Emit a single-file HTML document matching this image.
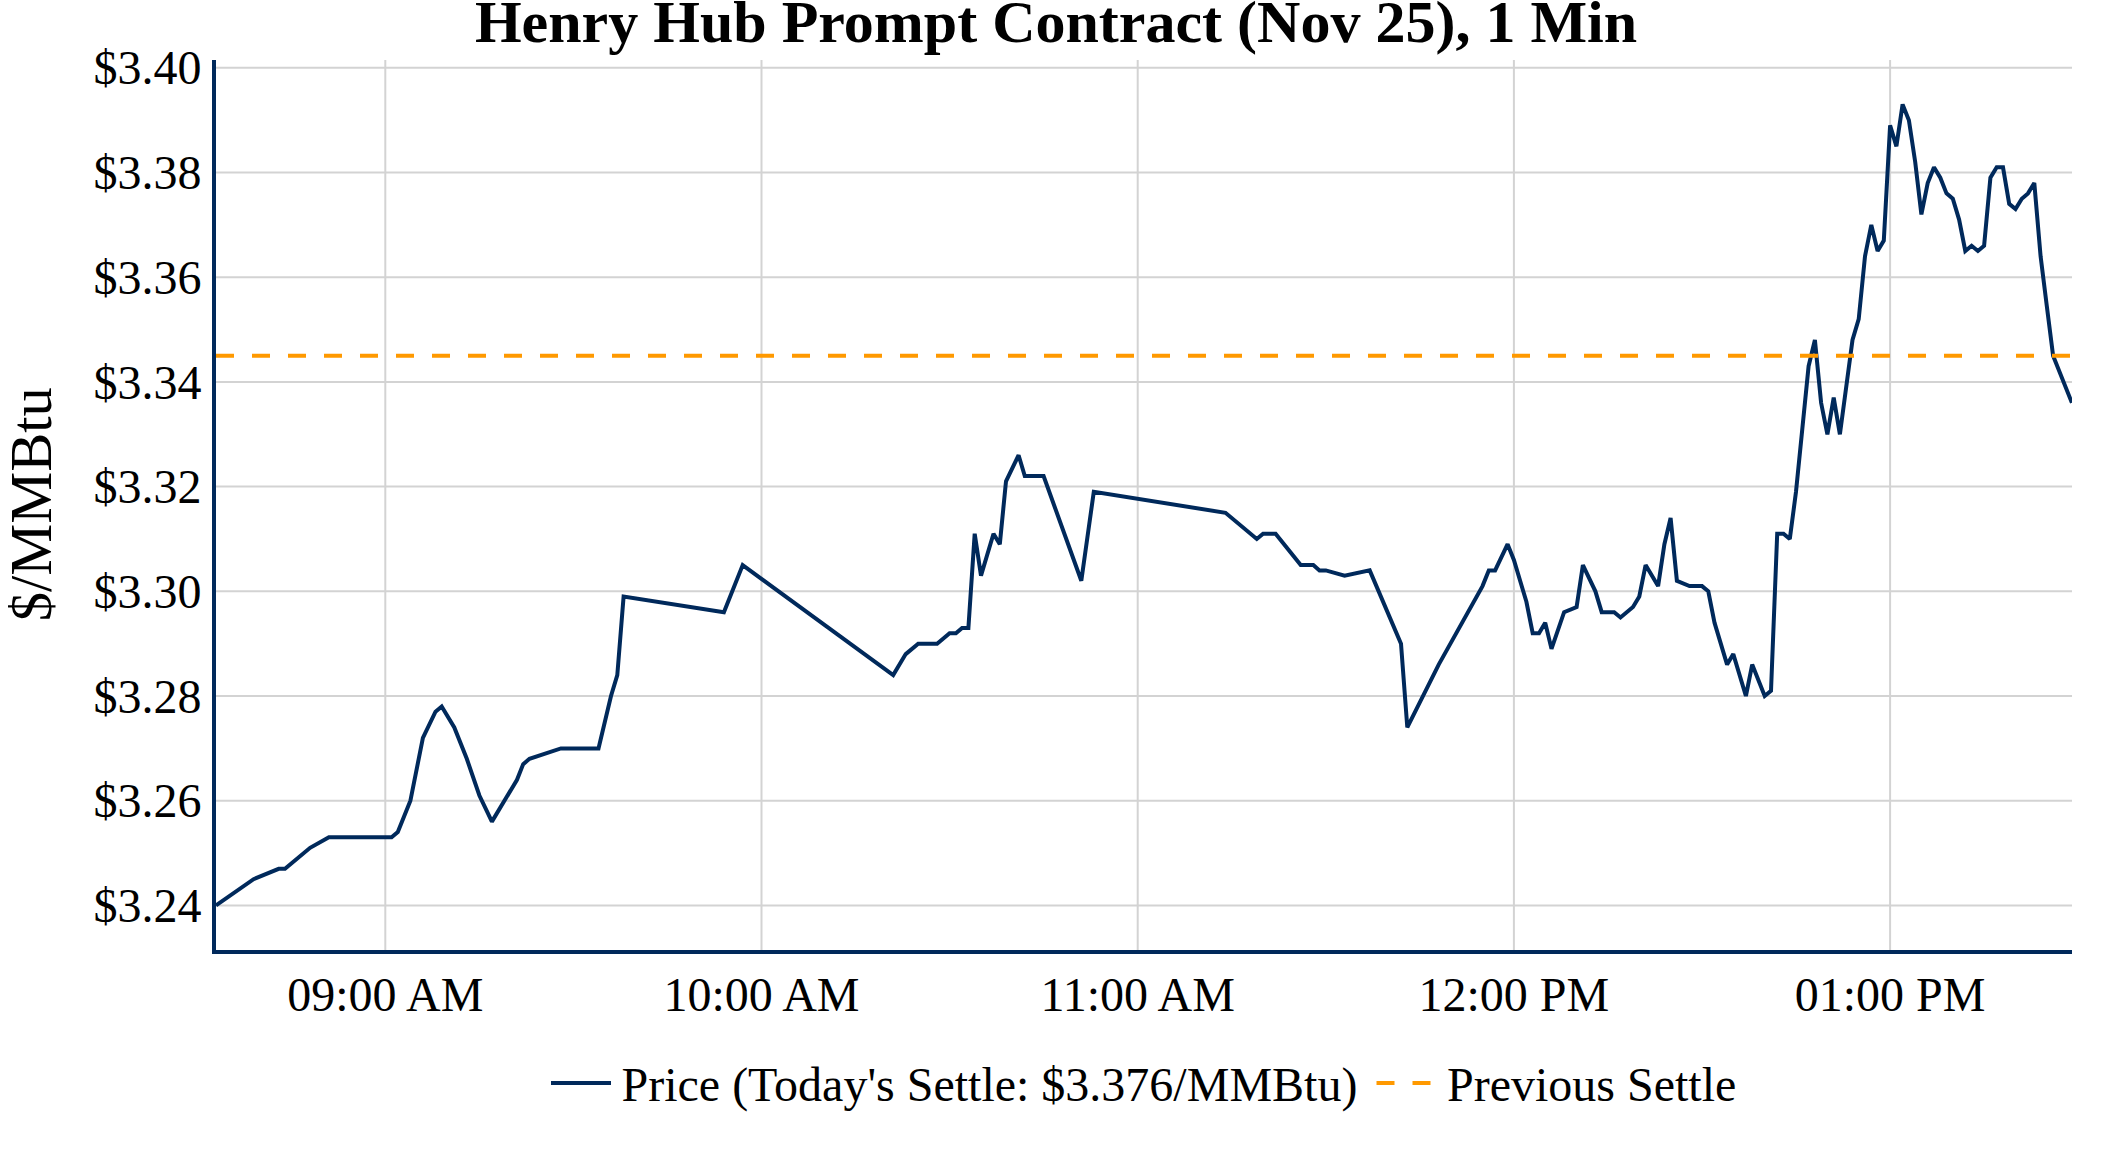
<!DOCTYPE html>
<html><head><meta charset="utf-8"><title>Henry Hub Prompt Contract</title>
<style>
html,body{margin:0;padding:0;background:#fff;}
body{width:2112px;height:1152px;overflow:hidden;}
svg{display:block;font-family:"Liberation Serif","Times New Roman",serif;}
</style></head><body>
<svg width="2112" height="1152" viewBox="0 0 2112 1152">
<rect width="2112" height="1152" fill="#fff"/>
<g stroke="#d3d3d3" stroke-width="2" fill="none"><line x1="216" x2="2072" y1="67.8" y2="67.8"/><line x1="216" x2="2072" y1="172.5" y2="172.5"/><line x1="216" x2="2072" y1="277.2" y2="277.2"/><line x1="216" x2="2072" y1="381.9" y2="381.9"/><line x1="216" x2="2072" y1="486.6" y2="486.6"/><line x1="216" x2="2072" y1="591.3" y2="591.3"/><line x1="216" x2="2072" y1="696.0" y2="696.0"/><line x1="216" x2="2072" y1="800.7" y2="800.7"/><line x1="216" x2="2072" y1="905.4" y2="905.4"/><line x1="385.3" x2="385.3" y1="60" y2="950"/><line x1="761.5" x2="761.5" y1="60" y2="950"/><line x1="1137.7" x2="1137.7" y1="60" y2="950"/><line x1="1513.9" x2="1513.9" y1="60" y2="950"/><line x1="1890.1" x2="1890.1" y1="60" y2="950"/></g>
<clipPath id="c"><rect x="216" y="60" width="1856" height="890"/></clipPath>
<g clip-path="url(#c)">
<polyline points="216.0,905.4 253.6,879.2 278.7,868.8 285.0,868.8 310.1,847.8 328.9,837.3 391.6,837.3 397.8,832.1 410.4,800.7 422.9,737.9 435.5,711.7 441.7,706.5 454.3,727.4 466.8,758.8 479.4,795.5 491.9,821.6 517.0,779.8 523.2,764.1 529.5,758.8 560.9,748.4 598.5,748.4 611.0,696.0 617.3,675.1 623.6,596.5 723.9,612.2 742.7,565.1 893.2,675.1 905.7,654.1 918.2,643.7 937.1,643.7 949.6,633.2 955.9,633.2 962.1,627.9 968.4,627.9 974.7,533.7 981.0,575.6 993.5,533.7 999.8,544.2 1006.0,481.4 1018.6,455.2 1024.8,476.1 1043.6,476.1 1081.3,580.8 1093.8,491.8 1225.5,512.8 1256.8,539.0 1263.1,533.7 1275.6,533.7 1300.7,565.1 1313.3,565.1 1319.5,570.4 1325.8,570.4 1344.6,575.6 1369.7,570.4 1401.0,643.7 1407.3,727.4 1438.7,664.6 1482.5,586.1 1488.8,570.4 1495.1,570.4 1507.6,544.2 1513.9,559.9 1526.4,601.8 1532.7,633.2 1539.0,633.2 1545.2,622.7 1551.5,648.9 1564.1,612.2 1576.6,607.0 1582.9,565.1 1595.4,591.3 1601.7,612.2 1614.2,612.2 1620.5,617.5 1633.0,607.0 1639.3,596.5 1645.6,565.1 1658.1,586.1 1664.4,544.2 1670.6,518.0 1676.9,580.8 1689.5,586.1 1702.0,586.1 1708.3,591.3 1714.5,622.7 1727.1,664.6 1733.3,654.1 1745.9,696.0 1752.2,664.6 1764.7,696.0 1771.0,690.8 1777.2,533.7 1783.5,533.7 1789.8,539.0 1796.0,491.8 1802.3,429.0 1808.6,366.2 1814.9,340.0 1821.1,402.8 1827.4,434.3 1833.7,397.6 1839.9,434.3 1852.5,340.0 1858.7,319.1 1865.0,256.3 1871.3,224.9 1877.6,251.0 1883.8,240.6 1890.1,125.4 1896.4,146.3 1902.6,104.4 1908.9,120.2 1915.2,162.0 1921.4,214.4 1927.7,183.0 1934.0,167.3 1940.3,177.7 1946.5,193.4 1952.8,198.7 1959.1,219.6 1965.3,251.0 1971.6,245.8 1977.9,251.0 1984.1,245.8 1990.4,177.7 1996.7,167.3 2003.0,167.3 2009.2,203.9 2015.5,209.1 2021.8,198.7 2028.0,193.4 2034.3,183.0 2040.6,256.3 2046.8,306.0 2053.1,355.7 2071.9,402.8" fill="none" stroke="#00295b" stroke-width="4" stroke-linejoin="miter" stroke-miterlimit="2"/>
<line x1="216" x2="2072" y1="355.7" y2="355.7" stroke="#ff9900" stroke-width="4" stroke-dasharray="18,18"/>
</g>
<rect x="212" y="60" width="4" height="894" fill="#00295b"/>
<rect x="212" y="950" width="1860" height="4" fill="#00295b"/>
<text x="1056" y="41.9" text-anchor="middle" font-size="60" font-weight="bold" fill="#000">Henry Hub Prompt Contract (Nov 25), 1 Min</text>
<g font-size="48" fill="#000"><text x="201.5" y="84.4" text-anchor="end">$3.40</text><text x="201.5" y="189.1" text-anchor="end">$3.38</text><text x="201.5" y="293.8" text-anchor="end">$3.36</text><text x="201.5" y="398.5" text-anchor="end">$3.34</text><text x="201.5" y="503.2" text-anchor="end">$3.32</text><text x="201.5" y="607.9" text-anchor="end">$3.30</text><text x="201.5" y="712.6" text-anchor="end">$3.28</text><text x="201.5" y="817.3" text-anchor="end">$3.26</text><text x="201.5" y="922.0" text-anchor="end">$3.24</text><text x="385.3" y="1011.4" text-anchor="middle">09:00 AM</text><text x="761.5" y="1011.4" text-anchor="middle">10:00 AM</text><text x="1137.7" y="1011.4" text-anchor="middle">11:00 AM</text><text x="1513.9" y="1011.4" text-anchor="middle">12:00 PM</text><text x="1890.1" y="1011.4" text-anchor="middle">01:00 PM</text></g>
<text transform="translate(50.8,504.2) rotate(-90)" text-anchor="middle" font-size="58.5" fill="#000">$/MMBtu</text>
<line x1="551" x2="611" y1="1083" y2="1083" stroke="#00295b" stroke-width="4"/>
<text x="621.5" y="1101" font-size="48" fill="#000">Price (Today's Settle: $3.376/MMBtu)</text>
<line x1="1376.5" x2="1436.5" y1="1083" y2="1083" stroke="#ff9900" stroke-width="4" stroke-dasharray="18,18"/>
<text x="1447" y="1101" font-size="48" fill="#000">Previous Settle</text>
</svg>
</body></html>
